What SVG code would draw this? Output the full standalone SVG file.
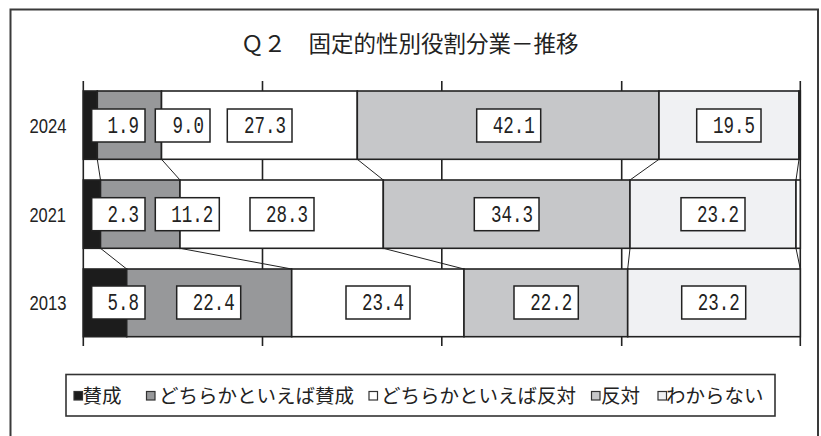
<svg xmlns="http://www.w3.org/2000/svg" width="821" height="436" viewBox="0 0 821 436">
<style>
.seg{stroke:#222;stroke-width:1.6}
.k{fill:#1c1c1c}.g{fill:#97989a}.w{fill:#ffffff}.lg{fill:#c6c7c9}.xl{fill:#f0f1f3}
.grid{stroke:#222;stroke-width:1.6}
.conn line{stroke:#222;stroke-width:1}
.box{fill:#fff;stroke:#222;stroke-width:1.5}
.val{font-family:"Liberation Mono","DejaVu Sans Mono",monospace;font-size:24px;fill:#222}
.yr{font-family:"Liberation Sans",Arial,sans-serif;font-size:20.5px;fill:#222}
.title{font-family:"Noto Sans CJK JP","Noto Sans",sans-serif;font-size:22.5px;fill:#222}
.leg{font-family:"Noto Sans CJK JP","Noto Sans",sans-serif;font-size:19.5px;fill:#222}
.mk{stroke:#333;stroke-width:1.2}
</style>
<rect x="10.5" y="9.5" width="807.5" height="440" fill="#fff" stroke="#3a3a3a" stroke-width="2"/>
<g id="title"><text class="title" x="241" y="51.5">Ｑ２　固定的性別役割分業－推移</text></g>

<g id="gridlines">
<line class="grid" x1="83.3" y1="81" x2="83.3" y2="346"/>
<line class="grid" x1="262.5" y1="81" x2="262.5" y2="346"/>
<line class="grid" x1="441.8" y1="81" x2="441.8" y2="346"/>
<line class="grid" x1="621.7" y1="81" x2="621.7" y2="346"/>
<line class="grid" x1="800.3" y1="81" x2="800.3" y2="346"/>
</g>

<g id="bar-2024">
<rect class="seg k" x="83.3" y="91" width="14" height="68.3"/>
<rect class="seg g" x="97.3" y="91" width="64.2" height="68.3"/>
<rect class="seg w" x="161.5" y="91" width="195.8" height="68.3"/>
<rect class="seg lg" x="357.3" y="91" width="301.7" height="68.3"/>
<rect class="seg xl" x="659" y="91" width="140" height="68.3"/>
<rect class="seg k" x="799" y="91" width="1.3" height="68.3"/>
</g>
<g id="bar-2021">
<rect class="seg k" x="83.3" y="180" width="17.2" height="68.3"/>
<rect class="seg g" x="100.5" y="180" width="79.5" height="68.3"/>
<rect class="seg w" x="180" y="180" width="203.3" height="68.3"/>
<rect class="seg lg" x="383.3" y="180" width="246.7" height="68.3"/>
<rect class="seg xl" x="630" y="180" width="166" height="68.3"/>
<rect class="seg w" x="796" y="180" width="4.3" height="68.3"/>
</g>
<g id="bar-2013">
<rect class="seg k" x="83.3" y="269" width="43.4" height="67.7"/>
<rect class="seg g" x="126.7" y="269" width="165" height="67.7"/>
<rect class="seg w" x="291.7" y="269" width="172.3" height="67.7"/>
<rect class="seg lg" x="464" y="269" width="163.7" height="67.7"/>
<rect class="seg xl" x="627.7" y="269" width="172.6" height="67.7"/>
</g>

<g id="connectors" class="conn">
<line x1="97.3" y1="159.3" x2="100.5" y2="180"/>
<line x1="161.5" y1="159.3" x2="180" y2="180"/>
<line x1="357.3" y1="159.3" x2="383.3" y2="180"/>
<line x1="659" y1="159.3" x2="630" y2="180"/>
<line x1="799" y1="159.3" x2="796" y2="180"/>
<line x1="100.5" y1="248.3" x2="126.7" y2="269"/>
<line x1="180" y1="248.3" x2="291.7" y2="269"/>
<line x1="383.3" y1="248.3" x2="464" y2="269"/>
<line x1="630" y1="248.3" x2="627.7" y2="269"/>
<line x1="796" y1="248.3" x2="800.3" y2="269"/>
</g>

<g id="years">
<text class="yr" x="29.5" y="133" textLength="37" lengthAdjust="spacingAndGlyphs">2024</text>
<text class="yr" x="29.5" y="221.7" textLength="36.5" lengthAdjust="spacingAndGlyphs">2021</text>
<text class="yr" x="29.5" y="310" textLength="37" lengthAdjust="spacingAndGlyphs">2013</text>
</g>

<g id="labels-2024">
<rect class="box" x="91.7" y="109" width="53.3" height="33"/><text class="val" x="107.5" y="133" textLength="31.5" lengthAdjust="spacingAndGlyphs">1.9</text>
<rect class="box" x="155.3" y="109" width="54.7" height="33"/><text class="val" x="172.5" y="133" textLength="31.5" lengthAdjust="spacingAndGlyphs">9.0</text>
<rect class="box" x="227.3" y="109" width="64.7" height="33"/><text class="val" x="244" y="133" textLength="42" lengthAdjust="spacingAndGlyphs">27.3</text>
<rect class="box" x="476.7" y="109" width="64" height="33"/><text class="val" x="492.7" y="133" textLength="42" lengthAdjust="spacingAndGlyphs">42.1</text>
<rect class="box" x="696.7" y="109" width="64.3" height="33"/><text class="val" x="713" y="133" textLength="42" lengthAdjust="spacingAndGlyphs">19.5</text>
</g>
<g id="labels-2021">
<rect class="box" x="91.7" y="197.7" width="53.3" height="33"/><text class="val" x="107.5" y="221.7" textLength="31.5" lengthAdjust="spacingAndGlyphs">2.3</text>
<rect class="box" x="155.3" y="197.7" width="64" height="33"/><text class="val" x="171.3" y="221.7" textLength="42" lengthAdjust="spacingAndGlyphs">11.2</text>
<rect class="box" x="250" y="197.7" width="64" height="33"/><text class="val" x="266" y="221.7" textLength="42" lengthAdjust="spacingAndGlyphs">28.3</text>
<rect class="box" x="474.3" y="197.7" width="64.7" height="33"/><text class="val" x="491" y="221.7" textLength="42" lengthAdjust="spacingAndGlyphs">34.3</text>
<rect class="box" x="681" y="197.7" width="64" height="33"/><text class="val" x="697" y="221.7" textLength="42" lengthAdjust="spacingAndGlyphs">23.2</text>
</g>
<g id="labels-2013">
<rect class="box" x="91.7" y="286" width="53.3" height="33"/><text class="val" x="107.5" y="310" textLength="31.5" lengthAdjust="spacingAndGlyphs">5.8</text>
<rect class="box" x="176.7" y="286" width="64" height="33"/><text class="val" x="192.7" y="310" textLength="42" lengthAdjust="spacingAndGlyphs">22.4</text>
<rect class="box" x="346" y="286" width="64" height="33"/><text class="val" x="362" y="310" textLength="42" lengthAdjust="spacingAndGlyphs">23.4</text>
<rect class="box" x="514" y="286" width="64.3" height="33"/><text class="val" x="530.3" y="310" textLength="42" lengthAdjust="spacingAndGlyphs">22.2</text>
<rect class="box" x="681.7" y="286" width="64" height="33"/><text class="val" x="697.7" y="310" textLength="42" lengthAdjust="spacingAndGlyphs">23.2</text>
</g>

<g id="legend">
<rect x="66" y="374.5" width="709" height="41.5" fill="#fff" stroke="#333" stroke-width="1.6"/>
<rect class="mk k" x="74" y="391.5" width="8.5" height="8.5"/>
<text class="leg" x="82.5" y="403">賛成</text>
<rect class="mk g" x="146.5" y="391.5" width="8.5" height="8.5"/>
<text class="leg" x="159" y="403">どちらかといえば賛成</text>
<rect class="mk w" x="369" y="391.5" width="8.5" height="8.5"/>
<text class="leg" x="381" y="403">どちらかといえば反対</text>
<rect class="mk lg" x="591.5" y="391.5" width="8.5" height="8.5"/>
<text class="leg" x="601" y="403">反対</text>
<rect class="mk xl" x="658" y="391.5" width="8.5" height="8.5"/>
<text class="leg" x="666" y="403">わからない</text>
</g>
</svg>
